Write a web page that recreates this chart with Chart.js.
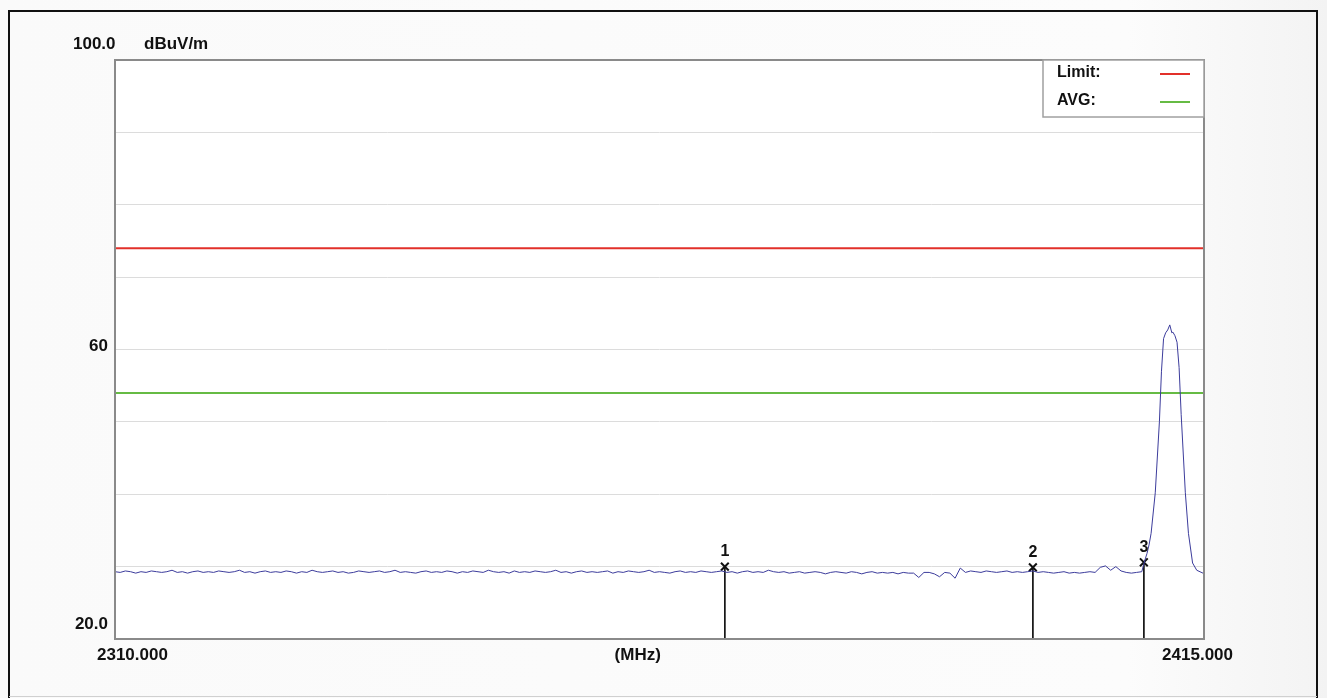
<!DOCTYPE html>
<html>
<head>
<meta charset="utf-8">
<script src="https://cdn.jsdelivr.net/npm/chart.js@4/dist/chart.umd.min.js"></script>
<style>
  body { margin: 0; background: #f8f8f8; }
  #wrap { position: relative; width: 1327px; height: 698px; overflow: hidden; }
</style>
</head>
<body>
<div id="wrap"><canvas id="c" width="1327" height="698"></canvas></div>
<script>
// sweep settings (MHz)
const startFreq = 2310;
const stopFreq = 2415;
const sweepStep = 0.5;

// noise floor, one value per sweep point from 2310 MHz up to 2409 MHz (dBuV/m)
const noiseLevels = [
  29.3,29.2,29.4,29.3,29.1,29.3,29.2,29.4,29.3,29.2,
  29.3,29.5,29.2,29.3,29.1,29.3,29.4,29.2,29.3,29.2,
  29.4,29.3,29.2,29.3,29.5,29.2,29.3,29.1,29.3,29.4,
  29.2,29.3,29.2,29.4,29.3,29.1,29.3,29.2,29.5,29.3,
  29.2,29.3,29.4,29.2,29.3,29.1,29.2,29.4,29.3,29.2,
  29.3,29.4,29.2,29.3,29.5,29.2,29.3,29.2,29.1,29.3,
  29.4,29.2,29.3,29.2,29.4,29.3,29.1,29.3,29.2,29.4,
  29.3,29.2,29.5,29.3,29.2,29.3,29.1,29.4,29.2,29.3,
  29.2,29.4,29.3,29.2,29.3,29.5,29.2,29.3,29.1,29.3,
  29.4,29.2,29.3,29.2,29.3,29.4,29.1,29.3,29.2,29.4,
  29.3,29.2,29.3,29.5,29.2,29.3,29.2,29.1,29.3,29.4,
  29.2,29.3,29.2,29.4,29.3,29.2,29.3,29.4,29.2,29.3,
  29.1,29.3,29.4,29.2,29.3,29.2,29.5,29.3,29.2,29.3,
  29.1,29.2,29.3,29.1,29.2,29.3,29.2,29.0,29.2,29.3,
  29.2,29.1,29.3,29.2,29.0,29.2,29.3,29.1,29.2,29.1,
  29.2,29.0,29.2,29.1,29.1,28.5,29.2,29.2,29.0,28.6,
  29.2,29.1,28.4,29.8,29.2,29.4,29.3,29.2,29.4,29.3,
  29.2,29.3,29.4,29.2,29.3,29.2,29.3,29.4,29.2,29.3,
  29.2,29.1,29.2,29.3,29.1,29.2,29.1,29.2,29.3,29.2,
  29.9,30.1,29.5,30.0,29.4,29.2,29.1,29.2,29.3
];

// carrier peak section
const peakFreqs  = [2409.3, 2409.5, 2409.7, 2409.9, 2410.3, 2410.7, 2410.9, 2411.1, 2411.3, 2411.5, 2411.7, 2411.9, 2412.0, 2412.2, 2412.4, 2412.6, 2412.8, 2413.2, 2413.5, 2413.9, 2414.3, 2414.9, 2415.0];
const peakLevels = [30.9, 31.8, 33.0, 34.6, 40.2, 50.0, 57.0, 61.5, 62.3, 62.7, 63.4, 62.3, 62.4, 61.9, 61.0, 57.5, 51.0, 40.2, 34.6, 30.5, 29.5, 29.1, 29.0];

// limits
const limitLevel = 74;
const avgLevel = 54;

// markers
const markerNames = ['1', '2', '3'];
const markerFreqs = [2368.8, 2398.5, 2409.2];
const markerLevels = [30.0, 29.9, 30.6];

// axis labels
const yTopLabel = '100.0';
const yUnit = 'dBuV/m';
const yMidLabel = '60';
const yMidValue = 60;
const yBottomLabel = '20.0';
const xStartLabel = '2310.000';
const xStopLabel = '2415.000';
const xUnit = '(MHz)';

const trace = [];
noiseLevels.forEach((v, i) => trace.push({ x: startFreq + i * sweepStep, y: v }));
peakFreqs.forEach((f, i) => trace.push({ x: f, y: peakLevels[i] }));

const markerLines = [];
markerFreqs.forEach((f, i) => {
  markerLines.push({ x: f, y: markerLevels[i] });
  markerLines.push({ x: f, y: 20 });
  markerLines.push({ x: f, y: null });
});

const FONT = '"Liberation Sans", Arial, sans-serif';

const decor = {
  id: 'decor',
  beforeDraw(chart) {
    const { ctx, chartArea: a } = chart;
    ctx.save();
    const g = ctx.createLinearGradient(0, 0, chart.width, 0);
    g.addColorStop(0, '#fafafa');
    g.addColorStop(0.85, '#fcfcfc');
    g.addColorStop(1, '#f3f3f3');
    ctx.fillStyle = g;
    ctx.fillRect(0, 0, chart.width, chart.height);
    ctx.fillStyle = '#ffffff';
    ctx.fillRect(a.left, a.top, a.right - a.left, a.bottom - a.top);
    ctx.restore();
  },
  afterDraw(chart) {
    const { ctx, chartArea: a, scales } = chart;
    const xs = scales.x, ys = scales.y;
    ctx.save();
    // outer frame
    ctx.strokeStyle = '#111';
    ctx.lineWidth = 2;
    ctx.beginPath();
    ctx.moveTo(9, 698); ctx.lineTo(9, 11); ctx.lineTo(1317, 11); ctx.lineTo(1317, 698);
    ctx.stroke();
    ctx.strokeStyle = '#d0d0d0';
    ctx.lineWidth = 1;
    ctx.beginPath(); ctx.moveTo(9, 696.5); ctx.lineTo(1317, 696.5); ctx.stroke();

    // plot border
    ctx.strokeStyle = '#8a8a8a';
    ctx.lineWidth = 2;
    ctx.strokeRect(a.left, a.top, a.right - a.left, a.bottom - a.top);

    // legend box
    const lx = a.right - 161, ly = a.top, lw = 161, lh = 57;
    ctx.fillStyle = '#ffffff';
    ctx.fillRect(lx, ly, lw, lh);
    ctx.strokeStyle = '#a0a0a0';
    ctx.lineWidth = 1.5;
    ctx.strokeRect(lx, ly, lw, lh);
    ctx.font = 'bold 16px ' + FONT;
    ctx.fillStyle = '#111';
    ctx.textBaseline = 'middle';
    ctx.textAlign = 'left';
    ctx.fillText('Limit:', lx + 14, ly + 13);
    ctx.fillText('AVG:', lx + 14, ly + 41);
    ctx.lineWidth = 2;
    ctx.strokeStyle = '#e2302a';
    ctx.beginPath(); ctx.moveTo(lx + 117, ly + 14); ctx.lineTo(lx + 147, ly + 14); ctx.stroke();
    ctx.strokeStyle = '#66bb44';
    ctx.beginPath(); ctx.moveTo(lx + 117, ly + 42); ctx.lineTo(lx + 147, ly + 42); ctx.stroke();

    // axis labels
    ctx.font = 'bold 17px ' + FONT;
    ctx.fillStyle = '#111';
    ctx.textAlign = 'left';
    ctx.fillText(yTopLabel, 73, ys.getPixelForValue(100) - 16);
    ctx.fillText(yUnit, 144, ys.getPixelForValue(100) - 16);
    ctx.textAlign = 'right';
    ctx.fillText(yMidLabel, a.left - 7, ys.getPixelForValue(yMidValue) - 3);
    ctx.fillText(yBottomLabel, a.left - 7, ys.getPixelForValue(20) - 15);
    ctx.textAlign = 'left';
    ctx.fillText(xStartLabel, xs.getPixelForValue(startFreq) - 18, a.bottom + 16);
    ctx.textAlign = 'center';
    ctx.fillText(xUnit, xs.getPixelForValue(2360.4), a.bottom + 16);
    ctx.textAlign = 'right';
    ctx.fillText(xStopLabel, xs.getPixelForValue(stopFreq) + 29, a.bottom + 16);

    // marker numbers
    ctx.font = 'bold 16px ' + FONT;
    ctx.textAlign = 'center';
    markerFreqs.forEach((f, i) => {
      ctx.fillText(markerNames[i], xs.getPixelForValue(f), ys.getPixelForValue(markerLevels[i]) - 15);
    });
    ctx.restore();
  }
};

new Chart(document.getElementById('c'), {
  type: 'line',
  data: {
    datasets: [
      { data: trace, borderColor: '#3c3c9c', borderWidth: 1, pointRadius: 0, tension: 0 },
      { data: [{ x: startFreq, y: limitLevel }, { x: stopFreq, y: limitLevel }], borderColor: '#e2302a', borderWidth: 2, pointRadius: 0 },
      { data: [{ x: startFreq, y: avgLevel }, { x: stopFreq, y: avgLevel }], borderColor: '#66bb44', borderWidth: 2, pointRadius: 0 },
      { data: markerLines, borderColor: '#111', borderWidth: 1, pointRadius: 0, spanGaps: false },
      { data: markerFreqs.map((f, i) => ({ x: f, y: markerLevels[i] })), showLine: false, pointStyle: 'crossRot', pointRadius: 5.5, pointBorderColor: '#111', pointBorderWidth: 2, borderColor: '#111' }
    ]
  },
  options: {
    responsive: false,
    animation: false,
    devicePixelRatio: 1,
    layout: { padding: { left: 115, top: 60, right: 123, bottom: 59 } },
    plugins: { legend: { display: false }, tooltip: { enabled: false } },
    scales: {
      x: { type: 'linear', min: startFreq, max: stopFreq, display: false },
      y: {
        type: 'linear', min: 20, max: 100,
        ticks: { display: false, stepSize: 10 },
        grid: { color: '#dcdcdc', drawTicks: false, lineWidth: 1 },
        border: { display: false }
      }
    }
  },
  plugins: [decor]
});
</script>
</body>
</html>
